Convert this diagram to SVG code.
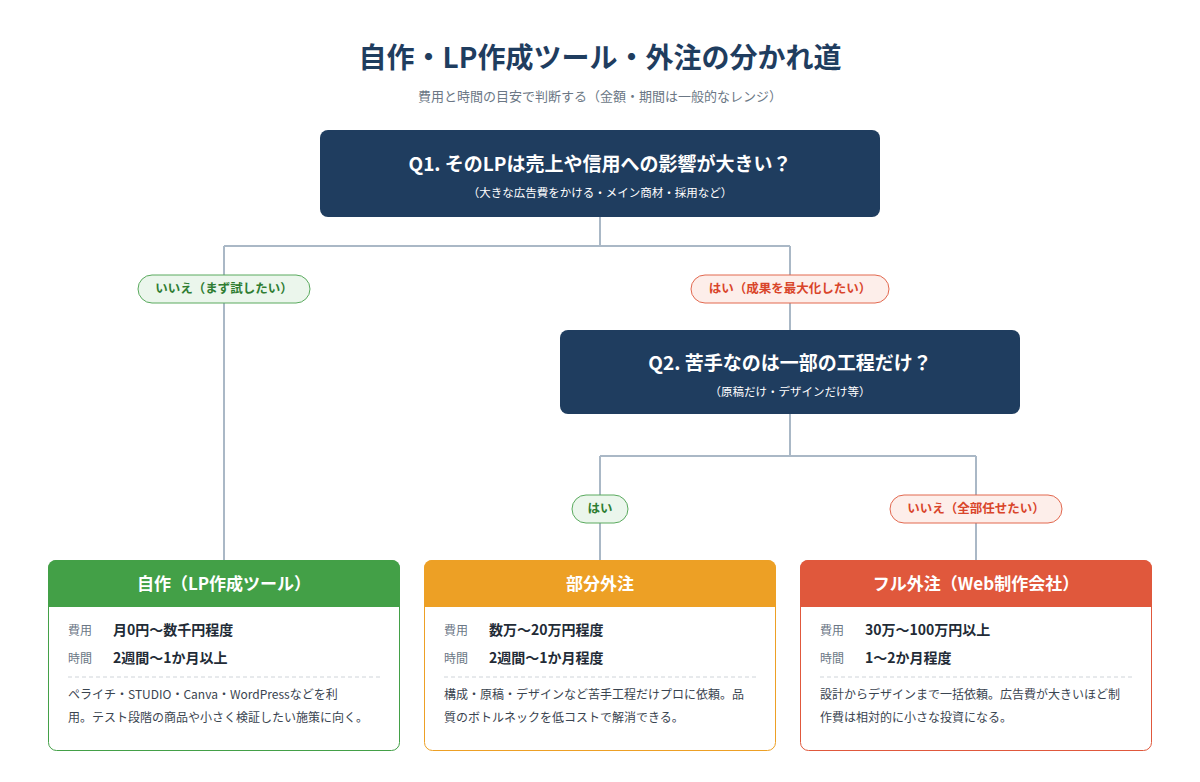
<svg xmlns="http://www.w3.org/2000/svg" width="1200" height="782" viewBox="0 0 1200 782">
<style>
text{font-family:"Noto Sans CJK JP","Noto Sans",sans-serif}
.q{fill:#1f3d5f}
.qt{fill:#fff;font-size:19px;font-weight:bold;text-anchor:middle}
.qs{fill:#fff;font-size:11.5px;text-anchor:middle}
.ln{fill:none;stroke:#aab8c6;stroke-width:2}
.pg{fill:#ebf6ec;stroke:#5aaa5e}
.pgt{fill:#2e7d32;font-size:12.5px;font-weight:bold;text-anchor:middle}
.pr{fill:#fdeeea;stroke:#e2684f}
.prt{fill:#d9452a;font-size:12.5px;font-weight:bold;text-anchor:middle}
.ht{fill:#fff;font-size:17px;font-weight:bold;text-anchor:middle}
.lb{fill:#6b7785;font-size:12px}
.vl{fill:#222b36;font-size:14px;font-weight:bold}
.ds{fill:#3a4450;font-size:12px}
.dash{stroke:#cfd4d9;stroke-dasharray:4 3}
</style>
<rect width="1200" height="782" fill="#fff"/>
<text x="600" y="68" text-anchor="middle" font-size="28" font-weight="bold" fill="#1f3d5f">自作・LP作成ツール・外注の分かれ道</text>
<text x="600" y="101" text-anchor="middle" font-size="13" fill="#6b7785">費用と時間の目安で判断する（金額・期間は一般的なレンジ）</text>
<g id="connectors">
<path class="ln" d="M600 217V246M224 246H790M224 246V560M790 246V330"/>
<path class="ln" d="M790 414V456M600 456H976M600 456V560M976 456V560"/>
</g>
<g id="q1"><rect class="q" x="320" y="130" width="560" height="87" rx="8"/>
<text class="qt" x="600" y="171">Q1. そのLPは売上や信用への影響が大きい？</text>
<text class="qs" x="600" y="197">（大きな広告費をかける・メイン商材・採用など）</text></g>
<g id="q2"><rect class="q" x="560" y="330" width="460" height="84" rx="8"/>
<text class="qt" x="790" y="370">Q2. 苦手なのは一部の工程だけ？</text>
<text class="qs" x="790" y="396">（原稿だけ・デザインだけ等）</text></g>
<g id="p1"><rect class="pg" x="138" y="275" width="172" height="28" rx="14"/><text class="pgt" x="224" y="293">いいえ（まず試したい）</text></g>
<g id="p2"><rect class="pr" x="691" y="275" width="198" height="28" rx="14"/><text class="prt" x="790" y="293">はい（成果を最大化したい）</text></g>
<g id="p3"><rect class="pg" x="572" y="495" width="56" height="28" rx="14"/><text class="pgt" x="600" y="513">はい</text></g>
<g id="p4"><rect class="pr" x="890" y="495" width="172" height="28" rx="14"/><text class="prt" x="976" y="513">いいえ（全部任せたい）</text></g>
<g id="c1">
<rect x="48.5" y="560.5" width="351" height="190" rx="8" fill="#fff" stroke="#43a047"/>
<path d="M48 607V568a8 8 0 0 1 8-8H392a8 8 0 0 1 8 8V607Z" fill="#43a047"/>
<text class="ht" x="224" y="590">自作（LP作成ツール）</text>
<text class="lb" x="68" y="635">費用</text><text class="vl" x="113" y="635">月0円〜数千円程度</text>
<text class="lb" x="68" y="663">時間</text><text class="vl" x="113" y="663">2週間〜1か月以上</text>
<line class="dash" x1="68" y1="677" x2="380" y2="677"/>
<text class="ds" x="68" y="699">ペライチ・STUDIO・Canva・WordPressなどを利</text>
<text class="ds" x="68" y="722">用。テスト段階の商品や小さく検証したい施策に向く。</text></g>
<g id="c2">
<rect x="424.5" y="560.5" width="351" height="190" rx="8" fill="#fff" stroke="#eda025"/>
<path d="M424 607V568a8 8 0 0 1 8-8H768a8 8 0 0 1 8 8V607Z" fill="#eda025"/>
<text class="ht" x="600" y="590">部分外注</text>
<text class="lb" x="444" y="635">費用</text><text class="vl" x="489" y="635">数万〜20万円程度</text>
<text class="lb" x="444" y="663">時間</text><text class="vl" x="489" y="663">2週間〜1か月程度</text>
<line class="dash" x1="444" y1="677" x2="756" y2="677"/>
<text class="ds" x="444" y="699">構成・原稿・デザインなど苦手工程だけプロに依頼。品</text>
<text class="ds" x="444" y="722">質のボトルネックを低コストで解消できる。</text></g>
<g id="c3">
<rect x="800.5" y="560.5" width="351" height="190" rx="8" fill="#fff" stroke="#e0583c"/>
<path d="M800 607V568a8 8 0 0 1 8-8H1144a8 8 0 0 1 8 8V607Z" fill="#e0583c"/>
<text class="ht" x="976" y="590">フル外注（Web制作会社）</text>
<text class="lb" x="820" y="635">費用</text><text class="vl" x="865" y="635">30万〜100万円以上</text>
<text class="lb" x="820" y="663">時間</text><text class="vl" x="865" y="663">1〜2か月程度</text>
<line class="dash" x1="820" y1="677" x2="1132" y2="677"/>
<text class="ds" x="820" y="699">設計からデザインまで一括依頼。広告費が大きいほど制</text>
<text class="ds" x="820" y="722">作費は相対的に小さな投資になる。</text></g>
</svg>
